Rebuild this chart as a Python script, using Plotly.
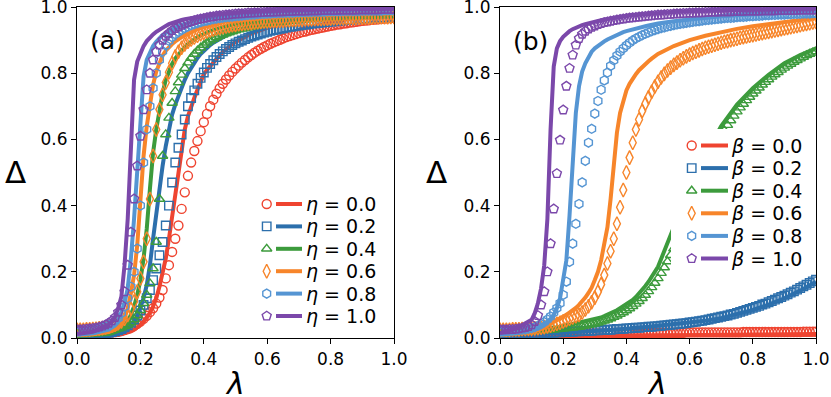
import plotly.graph_objects as go

W, H = 831, 397

# sampling grid of the simulation markers
lam_m = [0.00, 0.01, 0.02, 0.03, 0.04, 0.05, 0.06, 0.07, 0.08, 0.09,
         0.10, 0.11, 0.12, 0.13, 0.14, 0.15, 0.16, 0.17, 0.18, 0.19,
         0.20, 0.21, 0.22, 0.23, 0.24, 0.25, 0.26, 0.27, 0.28, 0.29,
         0.30, 0.31, 0.32, 0.33, 0.34, 0.35, 0.36, 0.37, 0.38, 0.39,
         0.40, 0.41, 0.42, 0.43, 0.44, 0.45, 0.46, 0.47, 0.48, 0.49,
         0.50, 0.51, 0.52, 0.53, 0.54, 0.55, 0.56, 0.57, 0.58, 0.59,
         0.60, 0.61, 0.62, 0.63, 0.64, 0.65, 0.66, 0.67, 0.68, 0.69,
         0.70, 0.71, 0.72, 0.73, 0.74, 0.75, 0.76, 0.77, 0.78, 0.79,
         0.80, 0.81, 0.82, 0.83, 0.84, 0.85, 0.86, 0.87, 0.88, 0.89,
         0.90, 0.91, 0.92, 0.93, 0.94, 0.95, 0.96, 0.97, 0.98, 0.99, 1.00]

# grid of the theory curves
lam_l = [0.0, 0.05, 0.10,
         0.11, 0.12, 0.13, 0.14, 0.15, 0.16, 0.17, 0.18, 0.19, 0.20,
         0.21, 0.22, 0.23, 0.24, 0.25, 0.26, 0.27, 0.28, 0.29, 0.30,
         0.31, 0.32, 0.33, 0.34, 0.35, 0.36, 0.37, 0.38, 0.39, 0.40,
         0.41, 0.42, 0.43, 0.44, 0.45, 0.46, 0.47, 0.48, 0.49, 0.50,
         0.55, 0.60, 0.65, 0.70, 0.75, 0.80, 0.85, 0.90, 0.95, 1.0]

labels = ["0.0", "0.2", "0.4", "0.6", "0.8", "1.0"]
colors = ["#EF4430", "#2C6FAC", "#3C9B3C", "#F7852A", "#5595D3", "#7B48AA"]
symbols = ["circle-open", "square-open", "triangle-up-open", "diamond-tall-open", "hexagon-open", "pentagon-open"]
msizes = [9, 8.5, 9, 10, 9, 9.5]

# ---------- panel (a): eta ----------
line_a_00 = [0.004, 0.005, 0.006,
             0.007, 0.008, 0.009, 0.011, 0.013, 0.016, 0.02, 0.025, 0.032, 0.04,
             0.05, 0.062, 0.076, 0.095, 0.12, 0.155, 0.195, 0.24, 0.3, 0.37,
             0.44, 0.51, 0.58, 0.63, 0.67, 0.70, 0.725, 0.75, 0.775, 0.797,
             0.81, 0.822, 0.833, 0.844, 0.854, 0.864, 0.873, 0.881, 0.888, 0.894,
             0.92, 0.937, 0.95, 0.959, 0.966, 0.971, 0.975, 0.979, 0.982, 0.984]
line_a_02 = [0.005, 0.006, 0.008,
             0.009, 0.011, 0.013, 0.016, 0.02, 0.026, 0.035, 0.047, 0.065, 0.09,
             0.12, 0.16, 0.22, 0.3, 0.38, 0.45, 0.52, 0.58, 0.63, 0.675,
             0.705, 0.733, 0.758, 0.78, 0.8, 0.817, 0.832, 0.846, 0.858, 0.868,
             0.877, 0.885, 0.892, 0.898, 0.904, 0.909, 0.914, 0.918, 0.922, 0.926,
             0.94, 0.951, 0.959, 0.965, 0.97, 0.974, 0.977, 0.98, 0.982, 0.984]
line_a_04 = [0.006, 0.008, 0.012,
             0.014, 0.017, 0.021, 0.027, 0.035, 0.047, 0.068, 0.095, 0.13, 0.175,
             0.24, 0.33, 0.45, 0.56, 0.63, 0.69, 0.74, 0.78, 0.808, 0.828,
             0.845, 0.858, 0.869, 0.879, 0.888, 0.896, 0.903, 0.909, 0.914, 0.919,
             0.923, 0.927, 0.931, 0.934, 0.937, 0.94, 0.942, 0.945, 0.947, 0.949,
             0.957, 0.964, 0.969, 0.973, 0.976, 0.979, 0.981, 0.983, 0.985, 0.986]
line_a_06 = [0.008, 0.011, 0.018,
             0.021, 0.025, 0.031, 0.042, 0.06, 0.09, 0.135, 0.19, 0.28, 0.42,
             0.55, 0.64, 0.71, 0.765, 0.805, 0.833, 0.853, 0.868, 0.879, 0.888,
             0.896, 0.903, 0.909, 0.915, 0.92, 0.925, 0.929, 0.933, 0.936, 0.939,
             0.942, 0.945, 0.947, 0.95, 0.952, 0.954, 0.956, 0.957, 0.959, 0.96,
             0.966, 0.971, 0.975, 0.978, 0.981, 0.983, 0.985, 0.987, 0.988, 0.989]
line_a_08 = [0.01, 0.014, 0.025,
             0.03, 0.038, 0.052, 0.075, 0.105, 0.15, 0.24, 0.36, 0.51, 0.68,
             0.79, 0.84, 0.865, 0.882, 0.895, 0.906, 0.915, 0.922, 0.928, 0.934,
             0.939, 0.943, 0.947, 0.95, 0.953, 0.956, 0.959, 0.961, 0.963, 0.965,
             0.967, 0.968, 0.97, 0.971, 0.972, 0.973, 0.974, 0.975, 0.976, 0.977,
             0.981, 0.984, 0.986, 0.988, 0.989, 0.99, 0.991, 0.992, 0.993, 0.993]
line_a_10 = [0.012, 0.019, 0.04,
             0.05, 0.065, 0.09, 0.125, 0.22, 0.36, 0.56, 0.78, 0.835, 0.863,
             0.882, 0.897, 0.908, 0.917, 0.925, 0.932, 0.938, 0.943, 0.948, 0.952,
             0.955, 0.958, 0.961, 0.963, 0.965, 0.967, 0.969, 0.971, 0.972, 0.974,
             0.975, 0.976, 0.977, 0.978, 0.979, 0.98, 0.981, 0.982, 0.982, 0.983,
             0.986, 0.988, 0.99, 0.991, 0.992, 0.993, 0.994, 0.994, 0.995, 0.995]

sim_a_00 = [0.012, 0.012, 0.012, 0.012, 0.013, 0.013, 0.013, 0.014, 0.014, 0.015, 0.016,
            0.017, 0.018, 0.02, 0.022, 0.025, 0.028, 0.032, 0.037, 0.043, 0.05,
            0.058, 0.067, 0.078, 0.09, 0.104, 0.122, 0.145, 0.18, 0.22, 0.26,
            0.3, 0.34, 0.39, 0.44, 0.49, 0.53, 0.565, 0.595, 0.625, 0.652,
            0.677, 0.7, 0.72, 0.738, 0.754, 0.768, 0.781, 0.793, 0.804, 0.814,
            0.823, 0.832, 0.84, 0.848, 0.855, 0.862, 0.868, 0.874, 0.879, 0.884,
            0.889, 0.893, 0.897, 0.901, 0.905, 0.909, 0.912, 0.915, 0.918, 0.921,
            0.924, 0.926, 0.929, 0.931, 0.933, 0.935, 0.937, 0.939, 0.941, 0.943,
            0.945, 0.947, 0.948, 0.95, 0.951, 0.953, 0.954, 0.955, 0.957, 0.958,
            0.959, 0.96, 0.961, 0.962, 0.963, 0.964, 0.965, 0.966, 0.967, 0.968]
sim_a_02 = [0.01, 0.01, 0.01, 0.011, 0.011, 0.012, 0.012, 0.013, 0.014, 0.015, 0.016,
            0.018, 0.02, 0.023, 0.027, 0.032, 0.038, 0.046, 0.056, 0.068, 0.083,
            0.1, 0.12, 0.145, 0.175, 0.21, 0.25, 0.29, 0.34, 0.4, 0.47,
            0.53, 0.575, 0.615, 0.66, 0.7, 0.725, 0.748, 0.768, 0.786, 0.802,
            0.816, 0.828, 0.839, 0.849, 0.858, 0.866, 0.873, 0.879, 0.885, 0.89,
            0.895, 0.899, 0.903, 0.907, 0.911, 0.914, 0.917, 0.92, 0.923, 0.925,
            0.928, 0.93, 0.932, 0.934, 0.936, 0.938, 0.94, 0.941, 0.943, 0.944,
            0.946, 0.947, 0.948, 0.95, 0.951, 0.952, 0.953, 0.954, 0.955, 0.956,
            0.957, 0.958, 0.959, 0.96, 0.961, 0.961, 0.962, 0.963, 0.964, 0.964,
            0.965, 0.966, 0.966, 0.967, 0.967, 0.968, 0.968, 0.969, 0.969, 0.97]
sim_a_04 = [0.015, 0.015, 0.015, 0.016, 0.016, 0.017, 0.017, 0.018, 0.019, 0.02, 0.021,
            0.023, 0.025, 0.028, 0.031, 0.035, 0.04, 0.047, 0.056, 0.068, 0.084,
            0.105, 0.13, 0.165, 0.21, 0.29, 0.42, 0.55, 0.615, 0.665, 0.71,
            0.745, 0.772, 0.795, 0.815, 0.832, 0.846, 0.858, 0.868, 0.877, 0.885,
            0.892, 0.898, 0.903, 0.908, 0.912, 0.916, 0.92, 0.923, 0.926, 0.929,
            0.932, 0.934, 0.936, 0.938, 0.94, 0.942, 0.944, 0.946, 0.947, 0.949,
            0.95, 0.952, 0.953, 0.954, 0.955, 0.956, 0.957, 0.958, 0.959, 0.96,
            0.961, 0.962, 0.963, 0.963, 0.964, 0.965, 0.965, 0.966, 0.967, 0.967,
            0.968, 0.968, 0.969, 0.969, 0.97, 0.97, 0.971, 0.971, 0.972, 0.972,
            0.972, 0.973, 0.973, 0.974, 0.974, 0.974, 0.975, 0.975, 0.975, 0.976]
sim_a_06 = [0.025, 0.025, 0.025, 0.026, 0.026, 0.027, 0.028, 0.029, 0.03, 0.032, 0.034,
            0.037, 0.04, 0.045, 0.05, 0.058, 0.07, 0.088, 0.11, 0.14, 0.18,
            0.23, 0.3, 0.42, 0.55, 0.63, 0.69, 0.735, 0.772, 0.803, 0.83,
            0.85, 0.865, 0.877, 0.887, 0.895, 0.902, 0.908, 0.913, 0.918, 0.922,
            0.926, 0.929, 0.932, 0.935, 0.937, 0.939, 0.941, 0.943, 0.945, 0.946,
            0.948, 0.949, 0.95, 0.951, 0.952, 0.953, 0.954, 0.955, 0.956, 0.956,
            0.957, 0.958, 0.958, 0.959, 0.959, 0.96, 0.96, 0.961, 0.961, 0.962,
            0.962, 0.963, 0.963, 0.963, 0.964, 0.964, 0.964, 0.965, 0.965, 0.965,
            0.966, 0.966, 0.966, 0.966, 0.967, 0.967, 0.967, 0.967, 0.968, 0.968,
            0.968, 0.968, 0.968, 0.969, 0.969, 0.969, 0.969, 0.969, 0.97, 0.97]
sim_a_08 = [0.02, 0.02, 0.021, 0.022, 0.023, 0.024, 0.026, 0.028, 0.031, 0.034, 0.038,
            0.043, 0.05, 0.06, 0.075, 0.095, 0.12, 0.155, 0.2, 0.27, 0.4,
            0.53, 0.63, 0.70, 0.755, 0.80, 0.84, 0.866, 0.884, 0.898, 0.909,
            0.918, 0.925, 0.931, 0.936, 0.941, 0.945, 0.948, 0.951, 0.954, 0.957,
            0.959, 0.961, 0.963, 0.965, 0.966, 0.968, 0.969, 0.97, 0.971, 0.972,
            0.973, 0.974, 0.975, 0.976, 0.977, 0.977, 0.978, 0.979, 0.979, 0.98,
            0.98, 0.981, 0.981, 0.982, 0.982, 0.983, 0.983, 0.983, 0.984, 0.984,
            0.984, 0.985, 0.985, 0.985, 0.986, 0.986, 0.986, 0.986, 0.987, 0.987,
            0.987, 0.987, 0.987, 0.988, 0.988, 0.988, 0.988, 0.988, 0.988, 0.989,
            0.989, 0.989, 0.989, 0.989, 0.989, 0.989, 0.99, 0.99, 0.99, 0.99]
sim_a_10 = [0.025, 0.025, 0.026, 0.027, 0.028, 0.029, 0.031, 0.033, 0.036, 0.04, 0.045,
            0.052, 0.062, 0.078, 0.1, 0.14, 0.22, 0.32, 0.42, 0.52, 0.61,
            0.69, 0.75, 0.8, 0.84, 0.865, 0.885, 0.9, 0.912, 0.921, 0.929,
            0.935, 0.94, 0.945, 0.949, 0.953, 0.956, 0.959, 0.962, 0.964, 0.966,
            0.968, 0.97, 0.971, 0.973, 0.974, 0.975, 0.976, 0.977, 0.978, 0.979,
            0.98, 0.98, 0.981, 0.982, 0.982, 0.983, 0.983, 0.984, 0.984, 0.985,
            0.985, 0.985, 0.986, 0.986, 0.986, 0.987, 0.987, 0.987, 0.988, 0.988,
            0.988, 0.988, 0.989, 0.989, 0.989, 0.989, 0.99, 0.99, 0.99, 0.99,
            0.99, 0.99, 0.991, 0.991, 0.991, 0.991, 0.991, 0.991, 0.992, 0.992,
            0.992, 0.992, 0.992, 0.992, 0.992, 0.993, 0.993, 0.993, 0.993, 0.993]

# ---------- panel (b): beta ----------
line_b_00 = [0.006, 0.006, 0.006,
             0.006, 0.006, 0.006, 0.006, 0.006, 0.006, 0.006, 0.006, 0.006, 0.006,
             0.007, 0.007, 0.007, 0.007, 0.007, 0.007, 0.007, 0.007, 0.007, 0.007,
             0.007, 0.007, 0.007, 0.007, 0.007, 0.008, 0.008, 0.008, 0.008, 0.008,
             0.008, 0.008, 0.008, 0.008, 0.008, 0.008, 0.008, 0.008, 0.008, 0.008,
             0.008, 0.009, 0.009, 0.01, 0.01, 0.011, 0.011, 0.012, 0.012, 0.012]
line_b_02 = [0.006, 0.008, 0.01,
             0.011, 0.011, 0.012, 0.012, 0.013, 0.013, 0.014, 0.014, 0.015, 0.015,
             0.016, 0.016, 0.017, 0.017, 0.018, 0.018, 0.019, 0.02, 0.02, 0.021,
             0.022, 0.022, 0.023, 0.024, 0.024, 0.025, 0.026, 0.026, 0.027, 0.028,
             0.029, 0.03, 0.03, 0.031, 0.032, 0.033, 0.034, 0.035, 0.036, 0.037,
             0.041, 0.046, 0.052, 0.06, 0.071, 0.085, 0.101, 0.12, 0.143, 0.17]
line_b_04 = [0.008, 0.012, 0.018,
             0.019, 0.021, 0.022, 0.024, 0.025, 0.027, 0.029, 0.031, 0.033, 0.035,
             0.037, 0.039, 0.041, 0.043, 0.045, 0.047, 0.049, 0.051, 0.053, 0.056,
             0.059, 0.062, 0.066, 0.07, 0.074, 0.079, 0.084, 0.09, 0.096, 0.102,
             0.108, 0.115, 0.124, 0.134, 0.145, 0.157, 0.17, 0.184, 0.199, 0.215,
             0.335, 0.45, 0.555, 0.64, 0.705, 0.755, 0.795, 0.83, 0.855, 0.875]
line_b_06 = [0.008, 0.012, 0.018,
             0.02, 0.023, 0.027, 0.032, 0.038, 0.044, 0.05, 0.055, 0.06, 0.065,
             0.07, 0.076, 0.083, 0.091, 0.1, 0.11, 0.122, 0.136, 0.152, 0.175,
             0.2, 0.235, 0.28, 0.335, 0.42, 0.53, 0.62, 0.68, 0.72, 0.748,
             0.768, 0.784, 0.797, 0.809, 0.819, 0.828, 0.836, 0.844, 0.851, 0.858,
             0.882, 0.9, 0.913, 0.925, 0.934, 0.942, 0.949, 0.956, 0.962, 0.967]
line_b_08 = [0.01, 0.015, 0.025,
             0.028, 0.032, 0.037, 0.043, 0.05, 0.058, 0.07, 0.09, 0.12, 0.17,
             0.235, 0.37, 0.52, 0.68, 0.76, 0.805, 0.83, 0.85, 0.865, 0.875,
             0.883, 0.89, 0.896, 0.902, 0.907, 0.912, 0.916, 0.92, 0.924, 0.927,
             0.93, 0.933, 0.936, 0.938, 0.94, 0.942, 0.944, 0.946, 0.948, 0.95,
             0.957, 0.963, 0.968, 0.972, 0.975, 0.978, 0.98, 0.982, 0.984, 0.985]
line_b_10 = [0.015, 0.028, 0.055,
             0.075, 0.105, 0.15, 0.22, 0.36, 0.63, 0.82, 0.875, 0.897, 0.91,
             0.92, 0.927, 0.933, 0.938, 0.942, 0.945, 0.948, 0.951, 0.954, 0.956,
             0.958, 0.96, 0.962, 0.964, 0.966, 0.967, 0.969, 0.97, 0.971, 0.973,
             0.974, 0.975, 0.976, 0.977, 0.978, 0.979, 0.979, 0.98, 0.981, 0.982,
             0.985, 0.987, 0.989, 0.99, 0.991, 0.992, 0.993, 0.994, 0.994, 0.995]

sim_b_00 = [0.012, 0.012, 0.012, 0.012, 0.012, 0.012, 0.012, 0.012, 0.012, 0.012, 0.012,
            0.012, 0.012, 0.012, 0.013, 0.013, 0.013, 0.013, 0.013, 0.013, 0.013,
            0.013, 0.013, 0.013, 0.013, 0.014, 0.014, 0.014, 0.014, 0.014, 0.014,
            0.014, 0.014, 0.014, 0.014, 0.014, 0.015, 0.015, 0.015, 0.015, 0.015,
            0.015, 0.015, 0.015, 0.015, 0.015, 0.015, 0.016, 0.016, 0.016, 0.016,
            0.016, 0.016, 0.016, 0.016, 0.016, 0.016, 0.016, 0.016, 0.017, 0.017,
            0.017, 0.017, 0.017, 0.017, 0.017, 0.017, 0.017, 0.017, 0.017, 0.017,
            0.017, 0.017, 0.017, 0.017, 0.017, 0.017, 0.018, 0.018, 0.018, 0.018,
            0.018, 0.018, 0.018, 0.018, 0.018, 0.018, 0.018, 0.018, 0.018, 0.018,
            0.018, 0.018, 0.018, 0.018, 0.018, 0.019, 0.019, 0.019, 0.019, 0.019]
sim_b_02 = [0.01, 0.01, 0.011, 0.011, 0.011, 0.012, 0.012, 0.012, 0.013, 0.013, 0.014,
            0.014, 0.014, 0.015, 0.015, 0.016, 0.016, 0.016, 0.017, 0.017, 0.018,
            0.018, 0.019, 0.019, 0.02, 0.02, 0.021, 0.021, 0.022, 0.022, 0.023,
            0.023, 0.024, 0.024, 0.025, 0.025, 0.026, 0.027, 0.027, 0.028, 0.029,
            0.029, 0.03, 0.031, 0.031, 0.032, 0.033, 0.034, 0.034, 0.035, 0.036,
            0.037, 0.038, 0.039, 0.04, 0.041, 0.042, 0.043, 0.044, 0.045, 0.047,
            0.048, 0.049, 0.051, 0.052, 0.054, 0.056, 0.058, 0.06, 0.062, 0.064,
            0.066, 0.068, 0.071, 0.073, 0.076, 0.079, 0.082, 0.085, 0.088, 0.091,
            0.094, 0.097, 0.101, 0.104, 0.108, 0.112, 0.116, 0.12, 0.124, 0.128,
            0.132, 0.137, 0.141, 0.146, 0.151, 0.156, 0.161, 0.166, 0.171, 0.176]
sim_b_04 = [0.015, 0.015, 0.016, 0.016, 0.017, 0.017, 0.018, 0.018, 0.019, 0.019, 0.02,
            0.021, 0.021, 0.022, 0.023, 0.023, 0.024, 0.025, 0.026, 0.027, 0.028,
            0.029, 0.03, 0.031, 0.032, 0.033, 0.035, 0.037, 0.039, 0.041, 0.043,
            0.046, 0.049, 0.052, 0.055, 0.059, 0.063, 0.067, 0.072, 0.077, 0.083,
            0.089, 0.096, 0.103, 0.111, 0.12, 0.13, 0.141, 0.153, 0.166, 0.18,
            0.196, 0.213, 0.231, 0.25, 0.27, 0.292, 0.315, 0.339, 0.364, 0.389,
            0.414, 0.439, 0.464, 0.488, 0.511, 0.533, 0.554, 0.574, 0.593, 0.611,
            0.627, 0.643, 0.657, 0.671, 0.684, 0.696, 0.707, 0.718, 0.728, 0.738,
            0.747, 0.756, 0.765, 0.773, 0.781, 0.789, 0.796, 0.803, 0.81, 0.816,
            0.822, 0.828, 0.834, 0.839, 0.844, 0.849, 0.854, 0.858, 0.862, 0.866]
sim_b_06 = [0.025, 0.025, 0.025, 0.025, 0.026, 0.026, 0.026, 0.027, 0.027, 0.028, 0.028,
            0.029, 0.03, 0.031, 0.033, 0.035, 0.037, 0.04, 0.043, 0.046, 0.05,
            0.054, 0.058, 0.062, 0.066, 0.07, 0.077, 0.086, 0.096, 0.108, 0.122,
            0.14, 0.162, 0.19, 0.225, 0.262, 0.3, 0.345, 0.395, 0.447, 0.5,
            0.545, 0.59, 0.63, 0.66, 0.686, 0.708, 0.727, 0.744, 0.76, 0.774,
            0.787, 0.798, 0.808, 0.817, 0.825, 0.832, 0.839, 0.845, 0.851, 0.856,
            0.861, 0.865, 0.869, 0.873, 0.877, 0.88, 0.883, 0.886, 0.889, 0.892,
            0.895, 0.897, 0.9, 0.902, 0.904, 0.907, 0.909, 0.911, 0.913, 0.915,
            0.917, 0.919, 0.921, 0.923, 0.925, 0.927, 0.929, 0.931, 0.933, 0.935,
            0.937, 0.939, 0.941, 0.943, 0.945, 0.947, 0.949, 0.951, 0.953, 0.955]
sim_b_08 = [0.02, 0.02, 0.021, 0.021, 0.022, 0.023, 0.024, 0.025, 0.026, 0.028, 0.03,
            0.033, 0.037, 0.042, 0.048, 0.056, 0.065, 0.077, 0.09, 0.105, 0.13,
            0.17, 0.23, 0.285, 0.345, 0.405, 0.47, 0.535, 0.59, 0.632, 0.678,
            0.716, 0.75, 0.778, 0.802, 0.822, 0.839, 0.853, 0.865, 0.875, 0.884,
            0.892, 0.899, 0.905, 0.91, 0.915, 0.919, 0.923, 0.927, 0.93, 0.933,
            0.936, 0.938, 0.941, 0.943, 0.945, 0.947, 0.949, 0.95, 0.952, 0.953,
            0.955, 0.956, 0.957, 0.959, 0.96, 0.961, 0.962, 0.963, 0.964, 0.965,
            0.966, 0.967, 0.967, 0.968, 0.969, 0.97, 0.97, 0.971, 0.972, 0.972,
            0.973, 0.973, 0.974, 0.975, 0.975, 0.976, 0.976, 0.977, 0.977, 0.977,
            0.978, 0.978, 0.979, 0.979, 0.979, 0.98, 0.98, 0.98, 0.981, 0.981]
sim_b_10 = [0.025, 0.025, 0.025, 0.026, 0.026, 0.027, 0.028, 0.03, 0.032, 0.035, 0.04,
            0.05, 0.068, 0.1, 0.14, 0.2, 0.285, 0.39, 0.497, 0.598, 0.689,
            0.761, 0.815, 0.855, 0.885, 0.905, 0.918, 0.927, 0.934, 0.939, 0.943,
            0.947, 0.95, 0.953, 0.955, 0.957, 0.959, 0.961, 0.963, 0.964, 0.966,
            0.967, 0.968, 0.969, 0.97, 0.971, 0.972, 0.973, 0.974, 0.975, 0.976,
            0.976, 0.977, 0.978, 0.978, 0.979, 0.98, 0.98, 0.981, 0.981, 0.982,
            0.982, 0.983, 0.983, 0.983, 0.984, 0.984, 0.985, 0.985, 0.985, 0.986,
            0.986, 0.986, 0.986, 0.987, 0.987, 0.987, 0.987, 0.988, 0.988, 0.988,
            0.988, 0.988, 0.989, 0.989, 0.989, 0.989, 0.989, 0.99, 0.99, 0.99,
            0.99, 0.99, 0.99, 0.99, 0.991, 0.991, 0.991, 0.991, 0.991, 0.991]

lines_a = [line_a_00, line_a_02, line_a_04, line_a_06, line_a_08, line_a_10]
sims_a = [sim_a_00, sim_a_02, sim_a_04, sim_a_06, sim_a_08, sim_a_10]
lines_b = [line_b_00, line_b_02, line_b_04, line_b_06, line_b_08, line_b_10]
sims_b = [sim_b_00, sim_b_02, sim_b_04, sim_b_06, sim_b_08, sim_b_10]

FONT = "DejaVu Sans"
fig = go.Figure()

def add_panel(sims, lines, xa, ya):
    for i in range(6):
        fig.add_trace(go.Scatter(
            x=lam_m, y=sims[i], mode="markers", xaxis=xa, yaxis=ya, showlegend=False,
            marker=dict(symbol=symbols[i], size=msizes[i], color=colors[i], line=dict(width=1.4, color=colors[i]))))
        fig.add_trace(go.Scatter(
            x=lam_l, y=lines[i], mode="lines", xaxis=xa, yaxis=ya, showlegend=False,
            line=dict(color=colors[i], width=4)))

add_panel(sims_a, lines_a, "x", "y")
add_panel(sims_b, lines_b, "x2", "y2")

# hand-made legends (white box, marker, line sample, text), drawn on
# pixel-scaled axes that overlay each panel
def add_legend(xa, ya, box, mx, lx0, lx1, tx, y0, dy, letter):
    bx0, by0, bx1, by1 = box
    fig.add_trace(go.Scatter(
        x=[bx0, bx1, bx1, bx0, bx0], y=[by0, by0, by1, by1, by0], mode="lines", fill="toself",
        fillcolor="white", line=dict(width=0), xaxis=xa, yaxis=ya, showlegend=False, hoverinfo="skip"))
    for i in range(6):
        yy = y0 + i * dy
        fig.add_trace(go.Scatter(
            x=[mx], y=[yy], mode="markers", xaxis=xa, yaxis=ya, showlegend=False,
            marker=dict(symbol=symbols[i], size=msizes[i], color=colors[i], line=dict(width=1.4, color=colors[i]))))
        fig.add_trace(go.Scatter(
            x=[lx0, lx1], y=[yy, yy], mode="lines", xaxis=xa, yaxis=ya, showlegend=False,
            line=dict(color=colors[i], width=4)))
        fig.add_annotation(x=tx / W, y=1 - yy / H, xref="paper", yref="paper", xanchor="left", yanchor="middle",
                           text="<i>%s</i> = %s" % (letter, labels[i]), showarrow=False,
                           font=dict(family=FONT, size=19, color="black"))

add_legend("x3", "y3", (250, 188, 390, 330), 266.7, 276, 302, 304, 204, 22.4, "η")
add_legend("x4", "y4", (671, 129, 813, 272), 691.7, 701, 728, 729, 145.5, 22.6, "β")

for txt, x, y, size in [("(a)", 108, 40, 25), ("(b)", 530, 42, 25),
                        ("Δ", 15, 172, 31), ("Δ", 437, 172, 31),
                        ("<i>λ</i>", 235, 383, 30), ("<i>λ</i>", 657, 383, 30)]:
    fig.add_annotation(x=x / W, y=1 - y / H, xref="paper", yref="paper", xanchor="center", yanchor="middle",
                       text=txt, showarrow=False, font=dict(family=FONT, size=size, color="black"))

ticks = [0, 0.2, 0.4, 0.6, 0.8, 1.0]
tick_text = ["0.0", "0.2", "0.4", "0.6", "0.8", "1.0"]
ax_style = dict(range=[0, 1], showline=True, linecolor="black", linewidth=1.2, mirror=True,
                ticks="outside", ticklen=5, tickwidth=1.2, tickcolor="black",
                tickvals=ticks, ticktext=tick_text, showgrid=False, zeroline=False,
                ticklabeloverflow="allow", automargin=False,
                tickfont=dict(family=FONT, size=17, color="black"))
hidden = dict(visible=False, fixedrange=True, showgrid=False, zeroline=False)

xa_dom = [77 / W, 394 / W]
xb_dom = [500 / W, 816 / W]
ydom = [1 - 338 / H, 1 - 7 / H]
fig.update_layout(
    width=W, height=H, margin=dict(l=0, r=0, t=0, b=0, pad=0, autoexpand=False),
    plot_bgcolor="white", paper_bgcolor="white",
    xaxis=dict(domain=xa_dom, anchor="y", **ax_style),
    yaxis=dict(domain=ydom, anchor="x", **ax_style),
    xaxis2=dict(domain=xb_dom, anchor="y2", **ax_style),
    yaxis2=dict(domain=ydom, anchor="x2", **ax_style),
    xaxis3=dict(overlaying="x", anchor="y3", range=[77, 394], **hidden),
    yaxis3=dict(overlaying="y", anchor="x3", range=[338, 7], **hidden),
    xaxis4=dict(overlaying="x2", anchor="y4", range=[500, 816], **hidden),
    yaxis4=dict(overlaying="y2", anchor="x4", range=[338, 7], **hidden),
    showlegend=False,
)

fig.write_html("out.html", config={"displayModeBar": False},
               post_script="document.body.style.margin='0';document.body.style.overflow='hidden';")
